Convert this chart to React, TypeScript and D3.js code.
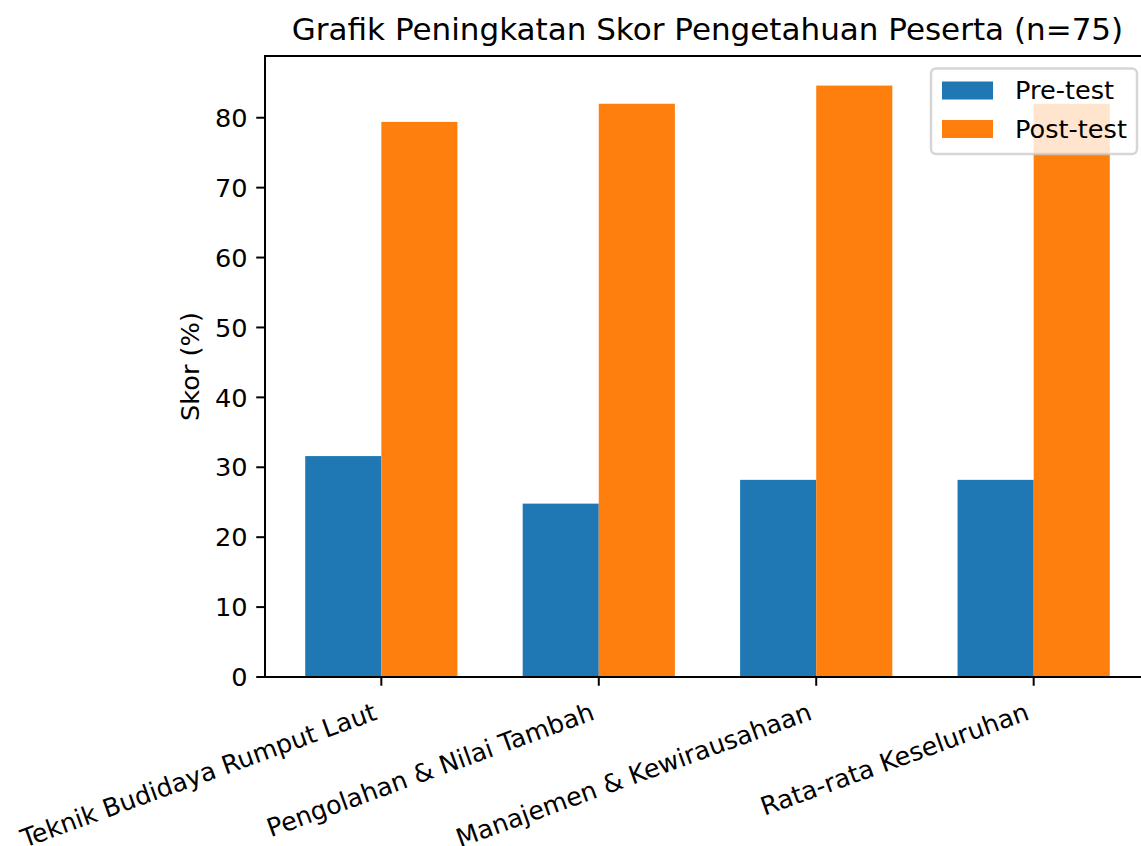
import React from "react";
import * as d3 from "d3";

const categories = [
  "Teknik Budidaya Rumput Laut",
  "Pengolahan & Nilai Tambah",
  "Manajemen & Kewirausahaan",
  "Rata-rata Keseluruhan",
];
const preTest = [31.6, 24.8, 28.2, 28.2];
const postTest = [79.4, 82.0, 84.6, 82.0];
const yTicks = [0, 10, 20, 30, 40, 50, 60, 70, 80];
const seriesNames = ["Pre-test", "Post-test"];
const seriesColors = ["#1f77b4", "#ff7f0e"];
const title = "Grafik Peningkatan Skor Pengetahuan Peserta (n=75)";
const yLabel = "Skor (%)";

const W = 1141;
const H = 846;
const FONT = "DejaVu Sans, sans-serif";
const FS = 25.6;

export default function App() {
  const barW = 0.35;
  const n = categories.length;
  const dMin = -barW;
  const dMax = n - 1 + barW;
  const span = dMax - dMin;
  const x = d3
    .scaleLinear()
    .domain([dMin - 0.05 * span, dMax + 0.05 * span])
    .range([265, 1150]);
  const yMax = (d3.max(postTest.concat(preTest)) as number) * 1.05;
  const y = d3.scaleLinear().domain([0, yMax]).range([677, 56]);

  const left = x.range()[0];
  const right = x.range()[1];
  const bottom = y.range()[0];
  const top = y.range()[1];
  const tickLen = 8.75;
  const pad = 8.75;

  const series = [preTest, postTest];

  return (
    <svg
      width={W}
      height={H}
      style={{ position: "absolute", left: 0, top: 0, background: "#fff" }}
      fontFamily={FONT}
    >
      <rect x={0} y={0} width={W} height={H} fill="#fff" />
      {series.map((vals, si) =>
        vals.map((v, i) => {
          const x0 = si === 0 ? x(i - barW) : x(i);
          const x1 = si === 0 ? x(i) : x(i + barW);
          return (
            <rect
              key={`${si}-${i}`}
              x={x0}
              y={y(v)}
              width={x1 - x0}
              height={y(0) - y(v)}
              fill={seriesColors[si]}
            />
          );
        })
      )}
      <line x1={left} x2={left} y1={top} y2={bottom} stroke="#000" strokeWidth={2} strokeLinecap="square" />
      <line x1={left} x2={right} y1={bottom} y2={bottom} stroke="#000" strokeWidth={2} strokeLinecap="square" />
      <line x1={left} x2={right} y1={top} y2={top} stroke="#000" strokeWidth={2} strokeLinecap="square" />
      <line x1={right} x2={right} y1={top} y2={bottom} stroke="#000" strokeWidth={2} />
      {yTicks.map((t) => (
        <g key={t}>
          <line x1={left - tickLen} x2={left} y1={y(t)} y2={y(t)} stroke="#000" strokeWidth={2} />
          <text
            x={left - tickLen - pad}
            y={y(t)}
            dy="0.36em"
            textAnchor="end"
            fontSize={FS}
            fill="#000"
          >
            {t}
          </text>
        </g>
      ))}
      {categories.map((c, i) => (
        <g key={c}>
          <line x1={x(i)} x2={x(i)} y1={bottom} y2={bottom + tickLen} stroke="#000" strokeWidth={2} />
          <text
            transform={`translate(${x(i) - 3},${bottom + 42}) rotate(-20)`}
            textAnchor="end"
            fontSize={25.3}
            fill="#000"
          >
            {c}
          </text>
        </g>
      ))}
      <text
        transform={`translate(199,${(top + bottom) / 2}) rotate(-90)`}
        textAnchor="middle"
        fontSize={FS}
        fill="#000"
      >
        {yLabel}
      </text>
      <text x={(left + right) / 2} y={40} textAnchor="middle" fontSize={31} fill="#000">
        {title}
      </text>
      <g>
        <rect
          x={931}
          y={68.5}
          width={206}
          height={85.5}
          rx={5}
          ry={5}
          fill="#fff"
          fillOpacity={0.8}
          stroke="#ccc"
          strokeOpacity={0.8}
          strokeWidth={2.5}
        />
        {seriesNames.map((s, i) => (
          <g key={s}>
            <rect x={942} y={81.5 + i * 38.5} width={51} height={18} fill={seriesColors[i]} />
            <text x={1015} y={99 + i * 38.5} fontSize={FS} fill="#000">
              {s}
            </text>
          </g>
        ))}
      </g>
    </svg>
  );
}
